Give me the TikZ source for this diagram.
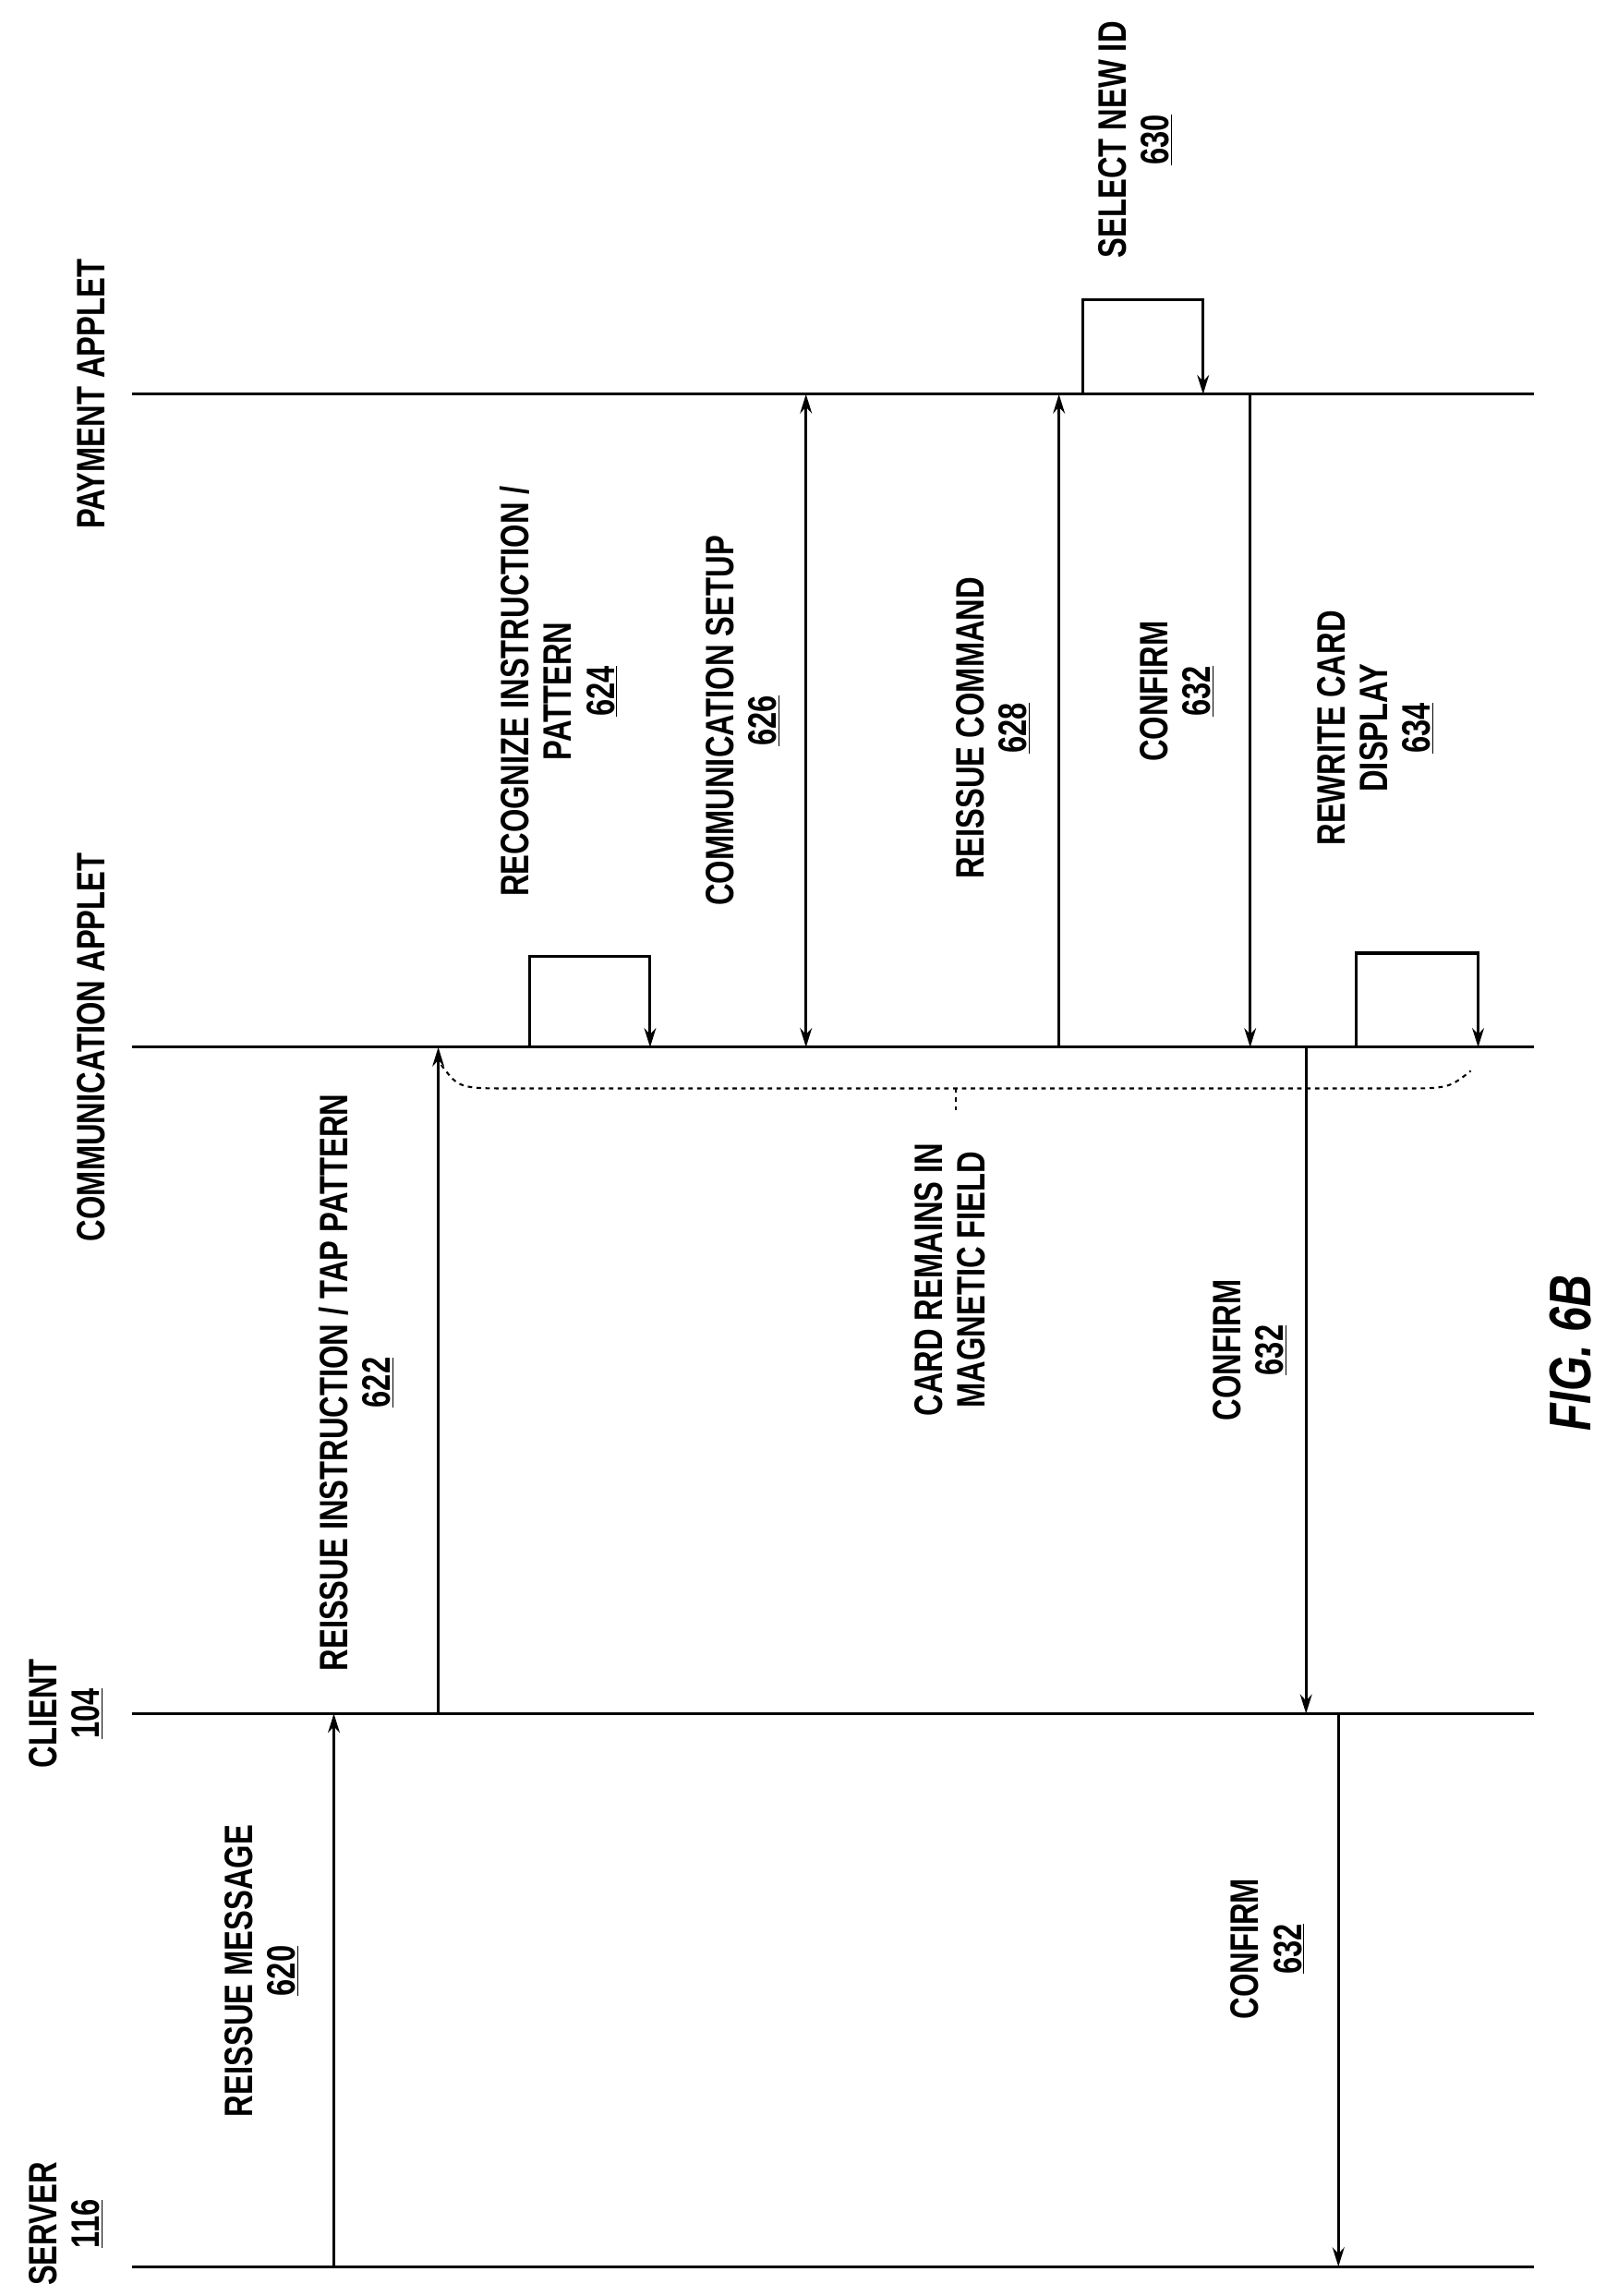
\documentclass[tikz,border=0pt]{standalone}
\usepackage{fontspec}
\setmainfont[FakeStretch=0.76]{Liberation Sans}
\usetikzlibrary{arrows.meta}
\begin{document}
\begin{tikzpicture}[x=1pt,y=-1pt,
  lbl/.style={rotate=90,align=center,font=\fontsize{27}{29}\selectfont\bfseries,inner sep=0pt},
  life/.style={line width=1.9pt},
  msg/.style={line width=1.9pt,-{Stealth[length=13pt,width=8pt]}},
  dmsg/.style={line width=1.9pt,{Stealth[length=13pt,width=8pt]}-{Stealth[length=13pt,width=8pt]}}]
\useasboundingbox[fill=white] (0,0) rectangle (1100,1561);
% lifelines
\coordinate (pa0) at (90,268); \coordinate (pa1) at (1043,268);
\coordinate (ca0) at (90,712); \coordinate (ca1) at (1043,712);
\coordinate (cl0) at (90,1165); \coordinate (cl1) at (1043,1165);
\coordinate (sv0) at (90,1541); \coordinate (sv1) at (1043,1541);
\draw[life] (pa0)--(pa1); \draw[life] (ca0)--(ca1);
\draw[life] (cl0)--(cl1); \draw[life] (sv0)--(sv1);
\node[lbl] (lpa) at (62,268) {PAYMENT APPLET};
\node[lbl] (lca) at (62,712) {COMMUNICATION APPLET};
\node[lbl] (lcl) at (45,1165) {CLIENT\\\underline{104}};
\node[lbl] (lsv) at (45,1512) {SERVER\\\underline{116}};
% 620
\coordinate (a620s) at (227,1541); \coordinate (a620e) at (227,1165);
\draw[msg] (a620s)--(a620e);
\node[lbl] (l620) at (178,1340) {REISSUE MESSAGE\\\underline{620}};
% 622
\coordinate (a622s) at (298,1165); \coordinate (a622e) at (298,712);
\draw[msg] (a622s)--(a622e);
\node[lbl] (l622) at (242,940) {REISSUE INSTRUCTION / TAP PATTERN\\\underline{622}};
% 624 loop
\coordinate (b624) at (360,712); \coordinate (e624) at (442,712);
\draw[msg] (b624)--(360,650)--(442,650)--(e624);
\node[lbl] (l624) at (380,470) {RECOGNIZE INSTRUCTION /\\PATTERN\\\underline{624}};
% 626
\coordinate (a626s) at (548,712); \coordinate (a626e) at (548,268);
\draw[dmsg] (a626s)--(a626e);
\node[lbl] (l626) at (505,490) {COMMUNICATION SETUP\\\underline{626}};
% 628
\coordinate (a628s) at (720,712); \coordinate (a628e) at (720,268);
\draw[msg] (a628s)--(a628e);
\node[lbl] (l628) at (675,495) {REISSUE COMMAND\\\underline{628}};
% 630 loop
\coordinate (b630) at (736,268); \coordinate (e630) at (818,268);
\draw[msg] (b630)--(736,204)--(818,204)--(e630);
\node[lbl] (l630) at (772,95) {SELECT NEW ID\\\underline{630}};
% 632 top
\coordinate (a632s) at (850,268); \coordinate (a632e) at (850,712);
\draw[msg] (a632s)--(a632e);
\node[lbl] (l632a) at (800,470) {CONFIRM\\\underline{632}};
% 634 loop
\coordinate (b634) at (922,712); \coordinate (e634) at (1005,712);
\draw[msg] (b634)--(922,648)--(1005,648)--(e634);
\node[lbl] (l634) at (935,495) {REWRITE CARD\\DISPLAY\\\underline{634}};
% 632 mid
\coordinate (a632bs) at (888,712); \coordinate (a632be) at (888,1165);
\draw[msg] (a632bs)--(a632be);
\node[lbl] (l632b) at (850,918) {CONFIRM\\\underline{632}};
% 632 bottom
\coordinate (a632cs) at (910,1165); \coordinate (a632ce) at (910,1541);
\draw[msg] (a632cs)--(a632ce);
\node[lbl] (l632c) at (862,1325) {CONFIRM\\\underline{632}};
% dashed brace
\draw[dashed,line width=1.3pt] (300,724) .. controls (312,740) .. (350,740) -- (950,740) .. controls (985,740) .. (1000,728);
\draw[dashed,line width=1.3pt] (650,740)--(650,756);
\node[lbl] (lcard) at (646,870) {CARD REMAINS IN\\MAGNETIC FIELD};
\node[rotate=90,font=\fontsize{40}{44}\selectfont\bfseries\itshape] (fig) at (1068,920) {FIG. 6B};
\end{tikzpicture}
\end{document}
